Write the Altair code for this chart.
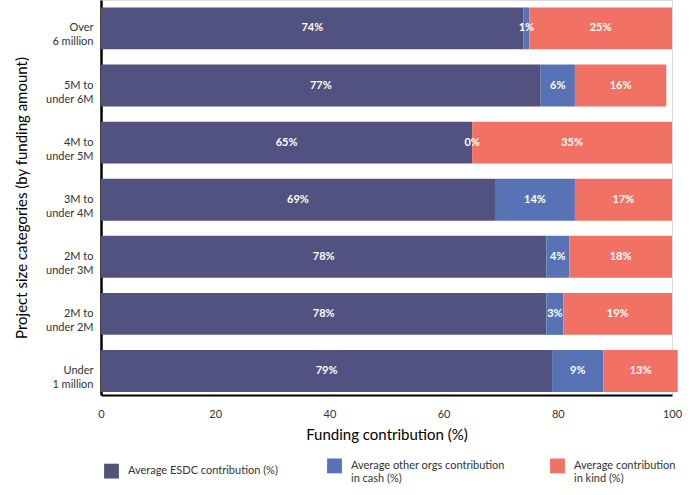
import altair as alt
import pandas as pd

categories = ["Over|6 million", "5M to|under 6M", "4M to|under 5M", "3M to|under 4M",
              "2M to|under 3M", "2M to|under 2M", "Under|1 million"]
esdc = [74, 77, 65, 69, 78, 78, 79]
cash = [1, 6, 0, 14, 4, 3, 9]
kind = [25, 16, 35, 17, 18, 19, 13]
series = ["Average ESDC contribution (%)",
          "Average other orgs contribution|in cash (%)",
          "Average contribution|in kind (%)"]
colors = ["#515280", "#5773b5", "#f17264"]
x_ticks = [0, 20, 40, 60, 80, 100]

rows = []
for i, c in enumerate(categories):
    for j, (s, v) in enumerate(zip(series, [esdc[i], cash[i], kind[i]])):
        rows.append({"category": c, "series": s, "value": v, "order": j})
df = pd.DataFrame(rows)

FONT = "Lato"

base = alt.Chart(df).transform_stack(
    stack="value", groupby=["category"], as_=["x0", "x1"],
    sort=[alt.SortField("order", order="ascending")]
).transform_calculate(
    mid="(datum.x0 + datum.x1) / 2",
    label="datum.value + '%'"
)

y_enc = alt.Y(
    "category:N", sort=categories,
    scale=alt.Scale(paddingInner=0.266, paddingOuter=0.092, align=0.71),
    axis=alt.Axis(
        title="Project size categories (by funding amount)",
        labelExpr="split(datum.label, '|')",
        ticks=False, domainColor="black", domainWidth=2.5,
        labelPadding=8, labelFontSize=11, labelColor="#333333",
        labelFont=FONT, labelLineHeight=14,
        titleFont=FONT, titleFontSize=15, titleFontWeight="normal",
        titleColor="black", titlePadding=16,
    ),
)

bars = base.mark_bar().encode(
    x=alt.X("x0:Q", scale=alt.Scale(domain=[0, 100], nice=False),
            axis=alt.Axis(
                values=x_ticks, grid=False, ticks=False,
                domainColor="black", domainWidth=2,
                labelPadding=13, labelFontSize=11, labelColor="#333333",
                labelFont=FONT, labelFlush=False,
                title="Funding contribution (%)", titleFont=FONT,
                titleFontSize=15, titleFontWeight="normal", titleColor="black",
                titlePadding=8,
            )),
    x2="x1:Q",
    y=y_enc,
    color=alt.Color(
        "series:N", sort=series,
        scale=alt.Scale(domain=series, range=colors),
        legend=alt.Legend(
            title=None, orient="none", legendX=3, legendY=452,
            direction="horizontal", columns=3, gridAlign="all",
            columnPadding=45, symbolType="M-1,-0.17H1V1.83H-1Z", symbolSize=220,
            symbolStrokeWidth=0, labelFontSize=11, labelFont=FONT,
            labelColor="#333333", labelOffset=9,
            labelExpr="split(datum.label, '|')", labelBaseline="top",
            labelLimit=300,
        ),
    ),
)

texts = base.mark_text(color="white", fontWeight="bold", fontSize=11, font=FONT).encode(
    x=alt.X("mid:Q"),
    y=alt.Y("category:N", sort=categories),
    text="label:N",
)

chart = (bars + texts).properties(
    width=571, height=395,
    autosize=alt.AutoSizeParams(type="none"),
    padding={"left": 101, "top": 0, "right": 24, "bottom": 100},
).configure_view(stroke=None).configure(font=FONT)

chart.save("out.html", embed_options={"renderer": "svg", "actions": False})
